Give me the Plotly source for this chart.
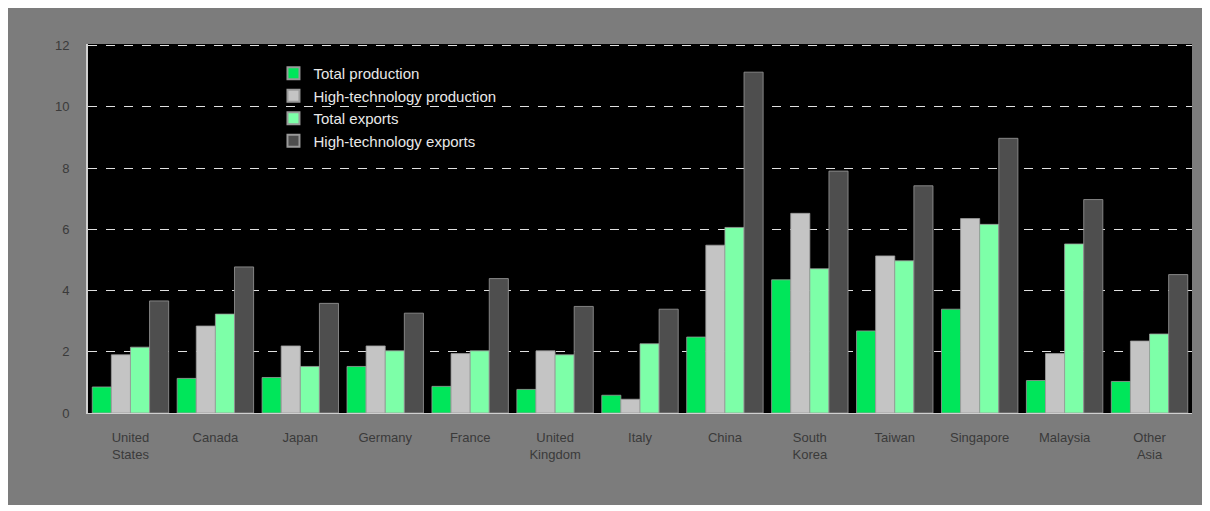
import plotly.graph_objects as go

categories = ["United<br>States", "Canada", "Japan", "Germany", "France",
              "United<br>Kingdom", "Italy", "China", "South<br>Korea",
              "Taiwan", "Singapore", "Malaysia", "Other<br>Asia"]
total_production = [0.85, 1.13, 1.16, 1.52, 0.87, 0.77, 0.58, 2.48, 4.35, 2.68, 3.39, 1.06, 1.03]
hitech_production = [1.90, 2.84, 2.19, 2.19, 1.94, 2.03, 0.45, 5.48, 6.52, 5.13, 6.35, 1.94, 2.35]
total_exports = [2.15, 3.23, 1.52, 2.03, 2.03, 1.90, 2.26, 6.06, 4.71, 4.97, 6.16, 5.52, 2.58]
hitech_exports = [3.66, 4.77, 3.58, 3.26, 4.39, 3.48, 3.39, 11.13, 7.90, 7.42, 8.97, 6.97, 4.52]
series_names = ["Total production", "High-technology production", "Total exports", "High-technology exports"]
series_colors = ["#00e65a", "#c4c4c4", "#7dffa8", "#4e4e4e"]
y_ticks = [0, 2, 4, 6, 8, 10, 12]

fig = go.Figure()
for name, vals, col in zip(series_names,
                           [total_production, hitech_production, total_exports, hitech_exports],
                           series_colors):
    fig.add_trace(go.Bar(x=categories, y=vals, name=name,
                         marker=dict(color=col, line=dict(color="#9a9a9a", width=0.8))))

fig.update_layout(
    width=1197, height=497,
    margin=dict(l=80, r=13, t=36, b=92),
    paper_bgcolor="#7c7c7c",
    plot_bgcolor="#000000",
    barmode="group",
    bargap=0.1,
    bargroupgap=0.0,
    font=dict(family="Liberation Sans, Arial, sans-serif", size=12, color="#3a3a3a"),
    legend=dict(x=0.168, y=0.965, xanchor="left", yanchor="top",
                bgcolor="rgba(0,0,0,0)", font=dict(color="#e8e8e8", size=15),
                tracegroupgap=7, itemsizing="constant"),
    xaxis=dict(showgrid=False, tickfont=dict(size=13, color="#3a3a3a"),
               showline=True, linecolor="#d0d0d0", linewidth=1, ticks="",
               ticklabelstandoff=12),
    yaxis=dict(range=[0, 12.05], tickvals=y_ticks, showgrid=True,
               gridcolor="#e0e0e0", griddash="dash", gridwidth=1,
               zeroline=False, showline=True, linecolor="#d0d0d0", linewidth=2,
               tickfont=dict(size=13, color="#3a3a3a"), ticks="",
               ticklabelstandoff=14),
)

fig.write_html("out.html")
